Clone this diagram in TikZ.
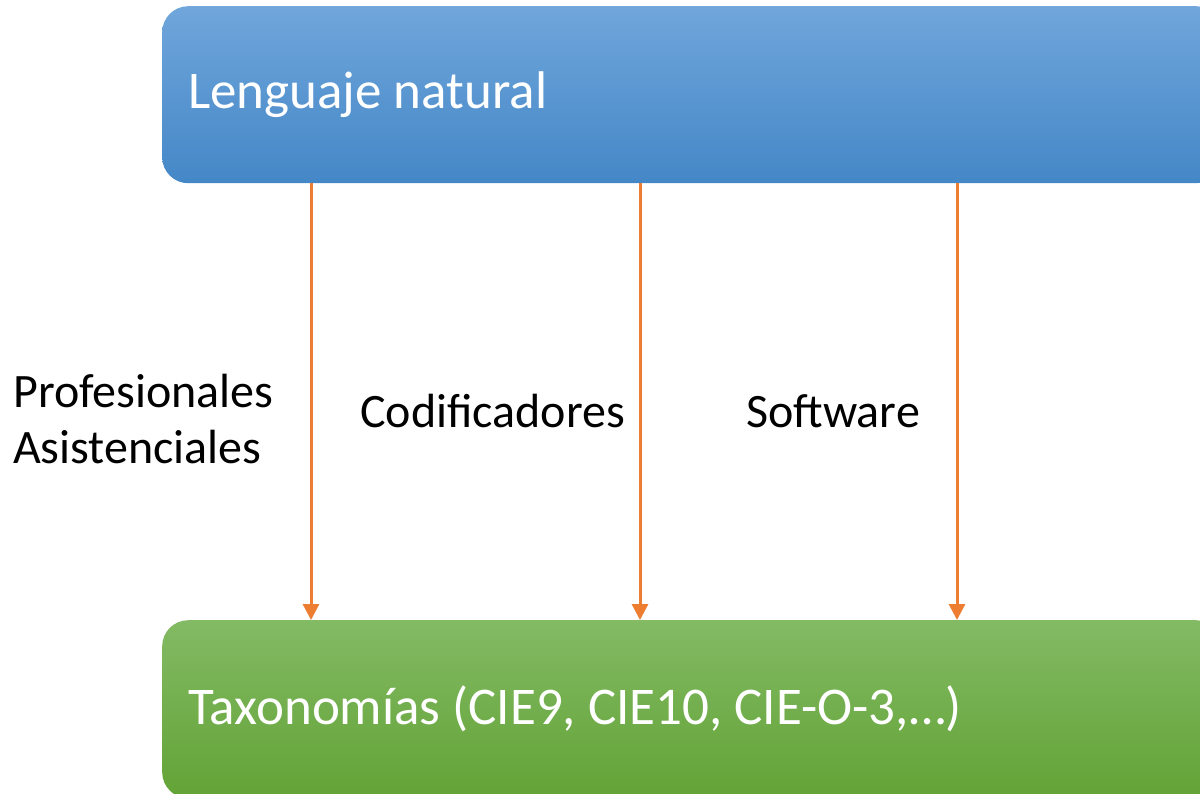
\documentclass[tikz,border=0pt]{standalone}
\usepackage{fontspec}
\setmainfont{Carlito}
\usepackage{tikz}
\usetikzlibrary{arrows.meta}

\definecolor{azulA}{HTML}{70A6DB}
\definecolor{azulB}{HTML}{4487C7}
\definecolor{verdeA}{HTML}{83BA64}
\definecolor{verdeB}{HTML}{62A336}
\definecolor{naranja}{HTML}{ED7D31}

\tikzset{
    caja/.style={rectangle, rounded corners=26pt, minimum width=1060pt, text width=1008pt,
        align=flush left, inner xsep=26pt, text=white, font=\fontsize{53}{64}\selectfont},
    etiqueta/.style={align=flush left, inner sep=0pt, font=\fontsize{48}{56}\selectfont},
    flecha/.style={naranja, line width=3pt, -{Triangle[width=16pt,length=16pt]}}
}

\begin{document}
\begin{tikzpicture}[x=1pt,y=-1pt]  % one unit = one pixel of the reference
    \useasboundingbox (0,0) rectangle (1200,793);
    \clip (0,0) rectangle (1200,793);

    % Top and bottom boxes
    \node[caja, minimum height=177pt, top color=azulA, bottom color=azulB, anchor=north west]
        (lenguaje) at (162,6) {Lenguaje natural};
    \node[caja, minimum height=178pt, top color=verdeA, bottom color=verdeB, anchor=north west]
        (taxonomias) at (162,620) {Taxonom\'ias (CIE9, CIE10, CIE-O-3,\ldots)};

    % Arrows between the boxes
    \foreach \dx in {149, 478, 795} {
        \draw[flecha] ([xshift=\dx pt]lenguaje.south west) -- ([xshift=\dx pt]taxonomias.north west);
    }

    % Labels beside the arrows
    \node[etiqueta, anchor=base west] (profesionales) at (13,463) {Profesionales\\Asistenciales};
    \node[etiqueta, anchor=base west] (codificadores) at (360,427) {Codificadores};
    \node[etiqueta, anchor=base west] (software) at (746,427) {Software};

\end{tikzpicture}
\end{document}
